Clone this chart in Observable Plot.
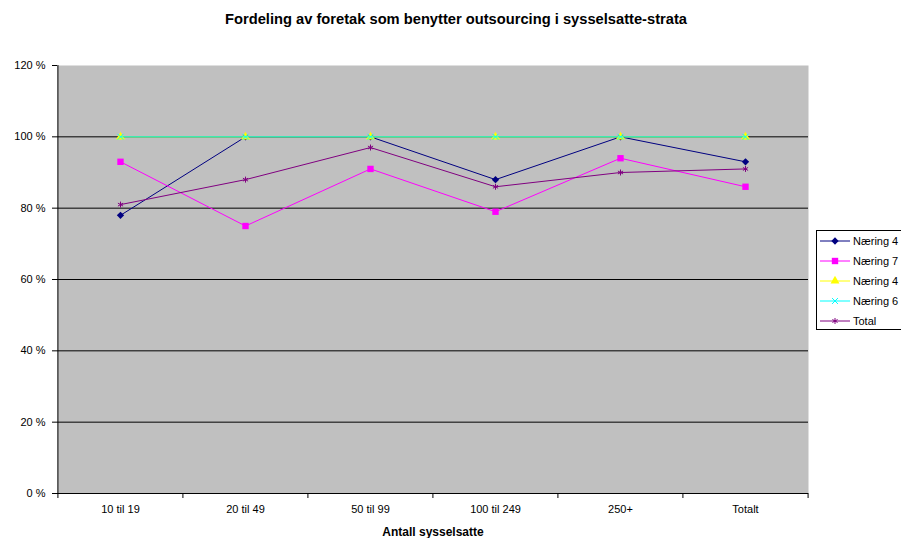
<!DOCTYPE html>
<html>
<head>
<meta charset="utf-8">
<script src="https://cdn.jsdelivr.net/npm/d3@7"></script>
<script src="https://cdn.jsdelivr.net/npm/@observablehq/plot@0.6"></script>
<style>
  html, body { margin: 0; padding: 0; background: #fff; overflow: hidden; }
  #wrap { position: relative; width: 901px; height: 538px; font-family: Arial, "Liberation Sans", sans-serif; }
  #title { position: absolute; top: 11px; left: 456px; transform: translateX(-50%); white-space: nowrap; font-weight: bold; font-size: 14.7px; line-height: 17px; color: #000; }
  #chart { position: absolute; left: 0; top: 0; }
  #legend { position: absolute; left: 816px; top: 230px; width: 100px; height: 98px; border: 1px solid #000; background: #fff; font-size: 11px; }
  .item { position: absolute; left: 3px; height: 14px; display: flex; align-items: center; white-space: nowrap; }
  .item svg { margin-right: 3px; }
</style>
</head>
<body>
<div id="wrap">
  <div id="chart"></div>
  <div id="title">Fordeling av foretak som benytter outsourcing i sysselsatte-strata</div>
  <div id="legend"></div>
</div>
<script>
const categories = ["10 til 19", "20 til 49", "50 til 99", "100 til 249", "250+", "Totalt"];
const seriesNames = ["Næring 4", "Næring 7", "Næring 4", "Næring 6", "Total"];
const naering4a = [78, 100, 100, 88, 100, 93];
const naering7 = [93, 75, 91, 79, 94, 86];
const naering4b = [100, 100, 100, 100, 100, 100];
const naering6 = [100, 100, 100, 100, 100, 100];
const total = [81, 88, 97, 86, 90, 91];
const yTicks = [0, 20, 40, 60, 80, 100, 120];
const gridValues = [20, 40, 60, 80, 100];
const xTitle = "Antall sysselsatte";

const seriesValues = [naering4a, naering7, naering4b, naering6, total];
const colors = ["#000080", "#ff00ff", "#ffff00", "#00ffff", "#800080"];
const symbols = ["diamond2", "square", "triangle", "times", "asterisk"];
const d3Symbols = {diamond2: d3.symbolDiamond2, square: d3.symbolSquare, triangle: d3.symbolTriangle, times: d3.symbolTimes, asterisk: d3.symbolAsterisk};
const filled = [true, true, true, false, false];
const rs = [3.3, 3.6, 3.3, 2.8, 2.8];

const W = 901, H = 538, mL = 57, mR = 93, mT = 65, mB = 45;
const step = (W - mL - mR) / categories.length;

const seriesMarks = [];
seriesValues.forEach((vals, i) => {
  const rows = categories.map((c, j) => ({cat: c, value: vals[j]}));
  seriesMarks.push(Plot.line(rows, {x: "cat", y: "value", stroke: colors[i], strokeWidth: 1}));
  seriesMarks.push(Plot.dot(rows, filled[i]
    ? {x: "cat", y: "value", symbol: () => symbols[i], r: rs[i], fill: colors[i], stroke: "none"}
    : {x: "cat", y: "value", symbol: () => symbols[i], r: rs[i], stroke: colors[i], strokeWidth: 1, fill: "none"}));
});

const chart = Plot.plot({
  width: W, height: H,
  marginLeft: mL, marginRight: mR, marginTop: mT, marginBottom: mB,
  x: {type: "point", domain: categories, padding: 0.5, label: null},
  y: {domain: [0, 120], label: null},
  symbol: {type: "identity"},
  style: {fontFamily: "Arial, 'Liberation Sans', sans-serif", fontSize: "11px", color: "#000", background: "transparent", overflow: "visible"},
  marks: [
    Plot.frame({fill: "#c0c0c0", stroke: null}),
    Plot.ruleY(gridValues, {stroke: "#000", strokeWidth: 1}),
    Plot.ruleY([0], {stroke: "#000"}),
    Plot.ruleX([categories[0]], {dx: -step / 2, stroke: "#000"}),
    Plot.axisY({ticks: yTicks, tickSize: 5, tickPadding: 7, tickFormat: d => d + " %", label: null}),
    Plot.axisX({ticks: categories, tickSize: 0, tickPadding: 12, label: null}),
    Plot.axisX({ticks: categories, tickSize: 5, tickFormat: () => "", dx: -step / 2, label: null}),
    Plot.axisX({ticks: [categories[categories.length - 1]], tickSize: 5, tickFormat: () => "", dx: step / 2, label: null}),
    ...seriesMarks,
    Plot.text([xTitle], {frameAnchor: "bottom", text: d => d, dy: 39, lineAnchor: "middle", fontWeight: "bold", fontSize: 12})
  ]
});
document.getElementById("chart").appendChild(chart);

// legend
const legend = document.getElementById("legend");
seriesNames.forEach((name, i) => {
  const item = document.createElement("div");
  item.className = "item";
  item.style.top = (3 + i * 20) + "px";
  const sw = d3.create("svg").attr("width", 30).attr("height", 12);
  sw.append("line").attr("x1", 0).attr("x2", 30).attr("y1", 6).attr("y2", 6).attr("stroke", colors[i]).attr("stroke-width", 1);
  const sym = d3.symbol(d3Symbols[symbols[i]], Math.PI * rs[i] * rs[i]);
  const p = sw.append("path").attr("d", sym()).attr("transform", "translate(15,6)");
  if (filled[i]) p.attr("fill", colors[i]); else p.attr("fill", "none").attr("stroke", colors[i]);
  item.appendChild(sw.node());
  const t = document.createElement("span");
  t.textContent = name;
  item.appendChild(t);
  legend.appendChild(item);
});
</script>
</body>
</html>
